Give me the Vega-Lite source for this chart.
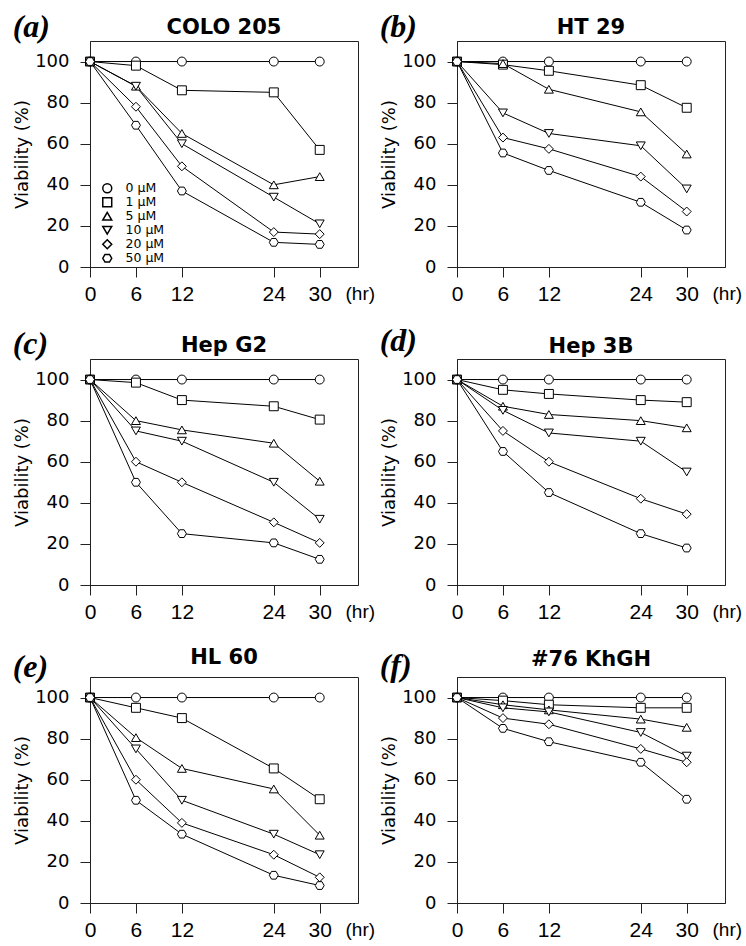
{
  "$schema": "https://vega.github.io/schema/vega-lite/v6.json",
  "background": "white",
  "padding": {"left": 12, "top": 10, "right": 0, "bottom": 0},
  "bounds": "flush",
  "columns": 2,
  "spacing": {"row": 92, "column": 99},
  "resolve": {"scale": {"shape": "independent"}, "legend": {"shape": "independent"}},
  "data": {"values": [
    {"p":"a","c":"0 µM","t":0,"v":100},{"p":"a","c":"0 µM","t":6,"v":100},{"p":"a","c":"0 µM","t":12,"v":100},{"p":"a","c":"0 µM","t":24,"v":100},{"p":"a","c":"0 µM","t":30,"v":100},
    {"p":"a","c":"1 µM","t":0,"v":100},{"p":"a","c":"1 µM","t":6,"v":98},{"p":"a","c":"1 µM","t":12,"v":86},{"p":"a","c":"1 µM","t":24,"v":85},{"p":"a","c":"1 µM","t":30,"v":57},
    {"p":"a","c":"5 µM","t":0,"v":100},{"p":"a","c":"5 µM","t":6,"v":88},{"p":"a","c":"5 µM","t":12,"v":65},{"p":"a","c":"5 µM","t":24,"v":40},{"p":"a","c":"5 µM","t":30,"v":44},
    {"p":"a","c":"10 µM","t":0,"v":100},{"p":"a","c":"10 µM","t":6,"v":88},{"p":"a","c":"10 µM","t":12,"v":60},{"p":"a","c":"10 µM","t":24,"v":34},{"p":"a","c":"10 µM","t":30,"v":21},
    {"p":"a","c":"20 µM","t":0,"v":100},{"p":"a","c":"20 µM","t":6,"v":78},{"p":"a","c":"20 µM","t":12,"v":49},{"p":"a","c":"20 µM","t":24,"v":17},{"p":"a","c":"20 µM","t":30,"v":16},
    {"p":"a","c":"50 µM","t":0,"v":100},{"p":"a","c":"50 µM","t":6,"v":69},{"p":"a","c":"50 µM","t":12,"v":37},{"p":"a","c":"50 µM","t":24,"v":12},{"p":"a","c":"50 µM","t":30,"v":11},

    {"p":"b","c":"0 µM","t":0,"v":100},{"p":"b","c":"0 µM","t":6,"v":100},{"p":"b","c":"0 µM","t":12,"v":100},{"p":"b","c":"0 µM","t":24,"v":100},{"p":"b","c":"0 µM","t":30,"v":100},
    {"p":"b","c":"1 µM","t":0,"v":100},{"p":"b","c":"1 µM","t":6,"v":98.5},{"p":"b","c":"1 µM","t":12,"v":95.5},{"p":"b","c":"1 µM","t":24,"v":88.5},{"p":"b","c":"1 µM","t":30,"v":77.5},
    {"p":"b","c":"5 µM","t":0,"v":100},{"p":"b","c":"5 µM","t":6,"v":99},{"p":"b","c":"5 µM","t":12,"v":86.5},{"p":"b","c":"5 µM","t":24,"v":75.5},{"p":"b","c":"5 µM","t":30,"v":55},
    {"p":"b","c":"10 µM","t":0,"v":100},{"p":"b","c":"10 µM","t":6,"v":75},{"p":"b","c":"10 µM","t":12,"v":65},{"p":"b","c":"10 µM","t":24,"v":59},{"p":"b","c":"10 µM","t":30,"v":38},
    {"p":"b","c":"20 µM","t":0,"v":100},{"p":"b","c":"20 µM","t":6,"v":63},{"p":"b","c":"20 µM","t":12,"v":57.5},{"p":"b","c":"20 µM","t":24,"v":44},{"p":"b","c":"20 µM","t":30,"v":27},
    {"p":"b","c":"50 µM","t":0,"v":100},{"p":"b","c":"50 µM","t":6,"v":55.5},{"p":"b","c":"50 µM","t":12,"v":47},{"p":"b","c":"50 µM","t":24,"v":31.5},{"p":"b","c":"50 µM","t":30,"v":18},

    {"p":"c","c":"0 µM","t":0,"v":100},{"p":"c","c":"0 µM","t":6,"v":100},{"p":"c","c":"0 µM","t":12,"v":100},{"p":"c","c":"0 µM","t":24,"v":100},{"p":"c","c":"0 µM","t":30,"v":100},
    {"p":"c","c":"1 µM","t":0,"v":100},{"p":"c","c":"1 µM","t":6,"v":98.5},{"p":"c","c":"1 µM","t":12,"v":90},{"p":"c","c":"1 µM","t":24,"v":87},{"p":"c","c":"1 µM","t":30,"v":80.5},
    {"p":"c","c":"5 µM","t":0,"v":100},{"p":"c","c":"5 µM","t":6,"v":80},{"p":"c","c":"5 µM","t":12,"v":75.5},{"p":"c","c":"5 µM","t":24,"v":69},{"p":"c","c":"5 µM","t":30,"v":50.5},
    {"p":"c","c":"10 µM","t":0,"v":100},{"p":"c","c":"10 µM","t":6,"v":75},{"p":"c","c":"10 µM","t":12,"v":70},{"p":"c","c":"10 µM","t":24,"v":50},{"p":"c","c":"10 µM","t":30,"v":32},
    {"p":"c","c":"20 µM","t":0,"v":100},{"p":"c","c":"20 µM","t":6,"v":60},{"p":"c","c":"20 µM","t":12,"v":50},{"p":"c","c":"20 µM","t":24,"v":30.5},{"p":"c","c":"20 µM","t":30,"v":20.5},
    {"p":"c","c":"50 µM","t":0,"v":100},{"p":"c","c":"50 µM","t":6,"v":50},{"p":"c","c":"50 µM","t":12,"v":25},{"p":"c","c":"50 µM","t":24,"v":20.5},{"p":"c","c":"50 µM","t":30,"v":12.5},

    {"p":"d","c":"0 µM","t":0,"v":100},{"p":"d","c":"0 µM","t":6,"v":100},{"p":"d","c":"0 µM","t":12,"v":100},{"p":"d","c":"0 µM","t":24,"v":100},{"p":"d","c":"0 µM","t":30,"v":100},
    {"p":"d","c":"1 µM","t":0,"v":100},{"p":"d","c":"1 µM","t":6,"v":95},{"p":"d","c":"1 µM","t":12,"v":93},{"p":"d","c":"1 µM","t":24,"v":90},{"p":"d","c":"1 µM","t":30,"v":89},
    {"p":"d","c":"5 µM","t":0,"v":100},{"p":"d","c":"5 µM","t":6,"v":87},{"p":"d","c":"5 µM","t":12,"v":83},{"p":"d","c":"5 µM","t":24,"v":80},{"p":"d","c":"5 µM","t":30,"v":76.5},
    {"p":"d","c":"10 µM","t":0,"v":100},{"p":"d","c":"10 µM","t":6,"v":85},{"p":"d","c":"10 µM","t":12,"v":74},{"p":"d","c":"10 µM","t":24,"v":70},{"p":"d","c":"10 µM","t":30,"v":55},
    {"p":"d","c":"20 µM","t":0,"v":100},{"p":"d","c":"20 µM","t":6,"v":75},{"p":"d","c":"20 µM","t":12,"v":60},{"p":"d","c":"20 µM","t":24,"v":42},{"p":"d","c":"20 µM","t":30,"v":34.5},
    {"p":"d","c":"50 µM","t":0,"v":100},{"p":"d","c":"50 µM","t":6,"v":65},{"p":"d","c":"50 µM","t":12,"v":45},{"p":"d","c":"50 µM","t":24,"v":25},{"p":"d","c":"50 µM","t":30,"v":18},

    {"p":"e","c":"0 µM","t":0,"v":100},{"p":"e","c":"0 µM","t":6,"v":100},{"p":"e","c":"0 µM","t":12,"v":100},{"p":"e","c":"0 µM","t":24,"v":100},{"p":"e","c":"0 µM","t":30,"v":100},
    {"p":"e","c":"1 µM","t":0,"v":100},{"p":"e","c":"1 µM","t":6,"v":95},{"p":"e","c":"1 µM","t":12,"v":90},{"p":"e","c":"1 µM","t":24,"v":65.5},{"p":"e","c":"1 µM","t":30,"v":50.5},
    {"p":"e","c":"5 µM","t":0,"v":100},{"p":"e","c":"5 µM","t":6,"v":80.5},{"p":"e","c":"5 µM","t":12,"v":65.5},{"p":"e","c":"5 µM","t":24,"v":55.5},{"p":"e","c":"5 µM","t":30,"v":33},
    {"p":"e","c":"10 µM","t":0,"v":100},{"p":"e","c":"10 µM","t":6,"v":75},{"p":"e","c":"10 µM","t":12,"v":50},{"p":"e","c":"10 µM","t":24,"v":33.5},{"p":"e","c":"10 µM","t":30,"v":23.5},
    {"p":"e","c":"20 µM","t":0,"v":100},{"p":"e","c":"20 µM","t":6,"v":60},{"p":"e","c":"20 µM","t":12,"v":39},{"p":"e","c":"20 µM","t":24,"v":23.5},{"p":"e","c":"20 µM","t":30,"v":12.5},
    {"p":"e","c":"50 µM","t":0,"v":100},{"p":"e","c":"50 µM","t":6,"v":50},{"p":"e","c":"50 µM","t":12,"v":33.5},{"p":"e","c":"50 µM","t":24,"v":13.5},{"p":"e","c":"50 µM","t":30,"v":8.5},

    {"p":"f","c":"0 µM","t":0,"v":100},{"p":"f","c":"0 µM","t":6,"v":100},{"p":"f","c":"0 µM","t":12,"v":100},{"p":"f","c":"0 µM","t":24,"v":100},{"p":"f","c":"0 µM","t":30,"v":100},
    {"p":"f","c":"1 µM","t":0,"v":100},{"p":"f","c":"1 µM","t":6,"v":98.5},{"p":"f","c":"1 µM","t":12,"v":96.5},{"p":"f","c":"1 µM","t":24,"v":95},{"p":"f","c":"1 µM","t":30,"v":95},
    {"p":"f","c":"5 µM","t":0,"v":100},{"p":"f","c":"5 µM","t":6,"v":96.5},{"p":"f","c":"5 µM","t":12,"v":94},{"p":"f","c":"5 µM","t":24,"v":89.5},{"p":"f","c":"5 µM","t":30,"v":85.5},
    {"p":"f","c":"10 µM","t":0,"v":100},{"p":"f","c":"10 µM","t":6,"v":95},{"p":"f","c":"10 µM","t":12,"v":93},{"p":"f","c":"10 µM","t":24,"v":83},{"p":"f","c":"10 µM","t":30,"v":71.5},
    {"p":"f","c":"20 µM","t":0,"v":100},{"p":"f","c":"20 µM","t":6,"v":90},{"p":"f","c":"20 µM","t":12,"v":87},{"p":"f","c":"20 µM","t":24,"v":75},{"p":"f","c":"20 µM","t":30,"v":68.5},
    {"p":"f","c":"50 µM","t":0,"v":100},{"p":"f","c":"50 µM","t":6,"v":85},{"p":"f","c":"50 µM","t":12,"v":78.5},{"p":"f","c":"50 µM","t":24,"v":68.5},{"p":"f","c":"50 µM","t":30,"v":50.5}
  ]},
  "concat": [
    {
      "width": 268, "height": 226,
      "layer": [
        {"transform": [{"filter": "datum.p == 'a'"}], "mark": {"type": "line", "color": "black", "strokeWidth": 1},
         "encoding": {"x": {"field": "t", "type": "quantitative", "scale": {"domain": [0, 35]}, "axis": {"values": [0, 6, 12, 24, 30], "title": "(hr)"}}, "y": {"field": "v", "type": "quantitative", "scale": {"domain": [0, 110]}, "axis": {"values": [0, 20, 40, 60, 80, 100], "title": "Viability (%)"}}, "detail": {"field": "c"}}},
        {"transform": [{"filter": "datum.p == 'a'"}], "mark": {"type": "point", "filled": true, "fill": "white", "stroke": "black", "strokeWidth": 1, "size": 80, "opacity": 1},
         "encoding": {"x": {"field": "t", "type": "quantitative", "scale": {"domain": [0, 35]}, "axis": {"values": [0, 6, 12, 24, 30], "title": "(hr)"}}, "y": {"field": "v", "type": "quantitative", "scale": {"domain": [0, 110]}, "axis": {"values": [0, 20, 40, 60, 80, 100], "title": "Viability (%)"}},
           "shape": {"field": "c", "type": "nominal", "scale": {"domain": ["0 µM", "1 µM", "5 µM", "10 µM", "20 µM", "50 µM"], "range": ["circle", "square", "triangle-up", "triangle-down", "diamond", "M-1,0L-0.5,-0.866L0.5,-0.866L1,0L0.5,0.866L-0.5,0.866Z"]},
           "legend": {"orient": "none", "legendX": 11, "legendY": 141, "title": null, "padding": 0, "symbolSize": 80, "labelFont": "DejaVu Sans", "labelFontSize": 12.5, "labelColor": "black", "labelOffset": 12, "rowPadding": -2.5, "labelExpr": "length(datum.label) < 5 ? '\u2007' + datum.label : datum.label",
             "encode": {"symbols": {"update": {"fill": {"value": "white"}, "stroke": {"value": "black"}, "strokeWidth": {"value": 1}, "opacity": {"value": 1}}}}}}}},
        {"transform": [{"filter": "datum.p == 'a' && datum.c == '0 µM' && datum.t == 0"}], "mark": {"type": "text", "font": "Liberation Serif", "fontWeight": "bold", "fontStyle": "italic", "fontSize": 32, "align": "left", "baseline": "alphabetic", "color": "black"},
         "encoding": {"x": {"datum": -10.1, "type": "quantitative", "scale": {"domain": [0, 35]}, "axis": {"values": [0, 6, 12, 24, 30], "title": "(hr)"}}, "y": {"datum": 112.0, "type": "quantitative", "scale": {"domain": [0, 110]}, "axis": {"values": [0, 20, 40, 60, 80, 100], "title": "Viability (%)"}}, "text": {"value": "(a)"}}},
        {"transform": [{"filter": "datum.p == 'a' && datum.c == '0 µM' && datum.t == 0"}], "mark": {"type": "text", "font": "DejaVu Sans", "fontWeight": "bold", "fontSize": 21, "align": "center", "baseline": "alphabetic", "color": "black"},
         "encoding": {"x": {"datum": 17.5, "type": "quantitative", "scale": {"domain": [0, 35]}, "axis": {"values": [0, 6, 12, 24, 30], "title": "(hr)"}}, "y": {"datum": 113.4, "type": "quantitative", "scale": {"domain": [0, 110]}, "axis": {"values": [0, 20, 40, 60, 80, 100], "title": "Viability (%)"}}, "text": {"value": "COLO 205"}}}
      ]
    },
    {
      "width": 268, "height": 226,
      "layer": [
        {"transform": [{"filter": "datum.p == 'b'"}], "mark": {"type": "line", "color": "black", "strokeWidth": 1},
         "encoding": {"x": {"field": "t", "type": "quantitative", "scale": {"domain": [0, 35]}, "axis": {"values": [0, 6, 12, 24, 30], "title": "(hr)"}}, "y": {"field": "v", "type": "quantitative", "scale": {"domain": [0, 110]}, "axis": {"values": [0, 20, 40, 60, 80, 100], "title": "Viability (%)"}}, "detail": {"field": "c"}}},
        {"transform": [{"filter": "datum.p == 'b'"}], "mark": {"type": "point", "filled": true, "fill": "white", "stroke": "black", "strokeWidth": 1, "size": 80, "opacity": 1},
         "encoding": {"x": {"field": "t", "type": "quantitative", "scale": {"domain": [0, 35]}, "axis": {"values": [0, 6, 12, 24, 30], "title": "(hr)"}}, "y": {"field": "v", "type": "quantitative", "scale": {"domain": [0, 110]}, "axis": {"values": [0, 20, 40, 60, 80, 100], "title": "Viability (%)"}},
           "shape": {"field": "c", "type": "nominal", "scale": {"domain": ["0 µM", "1 µM", "5 µM", "10 µM", "20 µM", "50 µM"], "range": ["circle", "square", "triangle-up", "triangle-down", "diamond", "M-1,0L-0.5,-0.866L0.5,-0.866L1,0L0.5,0.866L-0.5,0.866Z"]}, "legend": null}}},
        {"transform": [{"filter": "datum.p == 'b' && datum.c == '0 µM' && datum.t == 0"}], "mark": {"type": "text", "font": "Liberation Serif", "fontWeight": "bold", "fontStyle": "italic", "fontSize": 32, "align": "left", "baseline": "alphabetic", "color": "black"},
         "encoding": {"x": {"datum": -10.1, "type": "quantitative", "scale": {"domain": [0, 35]}, "axis": {"values": [0, 6, 12, 24, 30], "title": "(hr)"}}, "y": {"datum": 112.0, "type": "quantitative", "scale": {"domain": [0, 110]}, "axis": {"values": [0, 20, 40, 60, 80, 100], "title": "Viability (%)"}}, "text": {"value": "(b)"}}},
        {"transform": [{"filter": "datum.p == 'b' && datum.c == '0 µM' && datum.t == 0"}], "mark": {"type": "text", "font": "DejaVu Sans", "fontWeight": "bold", "fontSize": 21, "align": "center", "baseline": "alphabetic", "color": "black"},
         "encoding": {"x": {"datum": 17.5, "type": "quantitative", "scale": {"domain": [0, 35]}, "axis": {"values": [0, 6, 12, 24, 30], "title": "(hr)"}}, "y": {"datum": 113.4, "type": "quantitative", "scale": {"domain": [0, 110]}, "axis": {"values": [0, 20, 40, 60, 80, 100], "title": "Viability (%)"}}, "text": {"value": "HT 29"}}}
      ]
    },
    {
      "width": 268, "height": 226,
      "layer": [
        {"transform": [{"filter": "datum.p == 'c'"}], "mark": {"type": "line", "color": "black", "strokeWidth": 1},
         "encoding": {"x": {"field": "t", "type": "quantitative", "scale": {"domain": [0, 35]}, "axis": {"values": [0, 6, 12, 24, 30], "title": "(hr)"}}, "y": {"field": "v", "type": "quantitative", "scale": {"domain": [0, 110]}, "axis": {"values": [0, 20, 40, 60, 80, 100], "title": "Viability (%)"}}, "detail": {"field": "c"}}},
        {"transform": [{"filter": "datum.p == 'c'"}], "mark": {"type": "point", "filled": true, "fill": "white", "stroke": "black", "strokeWidth": 1, "size": 80, "opacity": 1},
         "encoding": {"x": {"field": "t", "type": "quantitative", "scale": {"domain": [0, 35]}, "axis": {"values": [0, 6, 12, 24, 30], "title": "(hr)"}}, "y": {"field": "v", "type": "quantitative", "scale": {"domain": [0, 110]}, "axis": {"values": [0, 20, 40, 60, 80, 100], "title": "Viability (%)"}},
           "shape": {"field": "c", "type": "nominal", "scale": {"domain": ["0 µM", "1 µM", "5 µM", "10 µM", "20 µM", "50 µM"], "range": ["circle", "square", "triangle-up", "triangle-down", "diamond", "M-1,0L-0.5,-0.866L0.5,-0.866L1,0L0.5,0.866L-0.5,0.866Z"]}, "legend": null}}},
        {"transform": [{"filter": "datum.p == 'c' && datum.c == '0 µM' && datum.t == 0"}], "mark": {"type": "text", "font": "Liberation Serif", "fontWeight": "bold", "fontStyle": "italic", "fontSize": 32, "align": "left", "baseline": "alphabetic", "color": "black"},
         "encoding": {"x": {"datum": -10.1, "type": "quantitative", "scale": {"domain": [0, 35]}, "axis": {"values": [0, 6, 12, 24, 30], "title": "(hr)"}}, "y": {"datum": 112.4, "type": "quantitative", "scale": {"domain": [0, 110]}, "axis": {"values": [0, 20, 40, 60, 80, 100], "title": "Viability (%)"}}, "text": {"value": "(c)"}}},
        {"transform": [{"filter": "datum.p == 'c' && datum.c == '0 µM' && datum.t == 0"}], "mark": {"type": "text", "font": "DejaVu Sans", "fontWeight": "bold", "fontSize": 21, "align": "center", "baseline": "alphabetic", "color": "black"},
         "encoding": {"x": {"datum": 17.5, "type": "quantitative", "scale": {"domain": [0, 35]}, "axis": {"values": [0, 6, 12, 24, 30], "title": "(hr)"}}, "y": {"datum": 113.4, "type": "quantitative", "scale": {"domain": [0, 110]}, "axis": {"values": [0, 20, 40, 60, 80, 100], "title": "Viability (%)"}}, "text": {"value": "Hep G2"}}}
      ]
    },
    {
      "width": 268, "height": 226,
      "layer": [
        {"transform": [{"filter": "datum.p == 'd'"}], "mark": {"type": "line", "color": "black", "strokeWidth": 1},
         "encoding": {"x": {"field": "t", "type": "quantitative", "scale": {"domain": [0, 35]}, "axis": {"values": [0, 6, 12, 24, 30], "title": "(hr)"}}, "y": {"field": "v", "type": "quantitative", "scale": {"domain": [0, 110]}, "axis": {"values": [0, 20, 40, 60, 80, 100], "title": "Viability (%)"}}, "detail": {"field": "c"}}},
        {"transform": [{"filter": "datum.p == 'd'"}], "mark": {"type": "point", "filled": true, "fill": "white", "stroke": "black", "strokeWidth": 1, "size": 80, "opacity": 1},
         "encoding": {"x": {"field": "t", "type": "quantitative", "scale": {"domain": [0, 35]}, "axis": {"values": [0, 6, 12, 24, 30], "title": "(hr)"}}, "y": {"field": "v", "type": "quantitative", "scale": {"domain": [0, 110]}, "axis": {"values": [0, 20, 40, 60, 80, 100], "title": "Viability (%)"}},
           "shape": {"field": "c", "type": "nominal", "scale": {"domain": ["0 µM", "1 µM", "5 µM", "10 µM", "20 µM", "50 µM"], "range": ["circle", "square", "triangle-up", "triangle-down", "diamond", "M-1,0L-0.5,-0.866L0.5,-0.866L1,0L0.5,0.866L-0.5,0.866Z"]}, "legend": null}}},
        {"transform": [{"filter": "datum.p == 'd' && datum.c == '0 µM' && datum.t == 0"}], "mark": {"type": "text", "font": "Liberation Serif", "fontWeight": "bold", "fontStyle": "italic", "fontSize": 32, "align": "left", "baseline": "alphabetic", "color": "black"},
         "encoding": {"x": {"datum": -10.1, "type": "quantitative", "scale": {"domain": [0, 35]}, "axis": {"values": [0, 6, 12, 24, 30], "title": "(hr)"}}, "y": {"datum": 113.9, "type": "quantitative", "scale": {"domain": [0, 110]}, "axis": {"values": [0, 20, 40, 60, 80, 100], "title": "Viability (%)"}}, "text": {"value": "(d)"}}},
        {"transform": [{"filter": "datum.p == 'd' && datum.c == '0 µM' && datum.t == 0"}], "mark": {"type": "text", "font": "DejaVu Sans", "fontWeight": "bold", "fontSize": 21, "align": "center", "baseline": "alphabetic", "color": "black"},
         "encoding": {"x": {"datum": 17.5, "type": "quantitative", "scale": {"domain": [0, 35]}, "axis": {"values": [0, 6, 12, 24, 30], "title": "(hr)"}}, "y": {"datum": 112.9, "type": "quantitative", "scale": {"domain": [0, 110]}, "axis": {"values": [0, 20, 40, 60, 80, 100], "title": "Viability (%)"}}, "text": {"value": "Hep 3B"}}}
      ]
    },
    {
      "width": 268, "height": 226,
      "layer": [
        {"transform": [{"filter": "datum.p == 'e'"}], "mark": {"type": "line", "color": "black", "strokeWidth": 1},
         "encoding": {"x": {"field": "t", "type": "quantitative", "scale": {"domain": [0, 35]}, "axis": {"values": [0, 6, 12, 24, 30], "title": "(hr)"}}, "y": {"field": "v", "type": "quantitative", "scale": {"domain": [0, 110]}, "axis": {"values": [0, 20, 40, 60, 80, 100], "title": "Viability (%)"}}, "detail": {"field": "c"}}},
        {"transform": [{"filter": "datum.p == 'e'"}], "mark": {"type": "point", "filled": true, "fill": "white", "stroke": "black", "strokeWidth": 1, "size": 80, "opacity": 1},
         "encoding": {"x": {"field": "t", "type": "quantitative", "scale": {"domain": [0, 35]}, "axis": {"values": [0, 6, 12, 24, 30], "title": "(hr)"}}, "y": {"field": "v", "type": "quantitative", "scale": {"domain": [0, 110]}, "axis": {"values": [0, 20, 40, 60, 80, 100], "title": "Viability (%)"}},
           "shape": {"field": "c", "type": "nominal", "scale": {"domain": ["0 µM", "1 µM", "5 µM", "10 µM", "20 µM", "50 µM"], "range": ["circle", "square", "triangle-up", "triangle-down", "diamond", "M-1,0L-0.5,-0.866L0.5,-0.866L1,0L0.5,0.866L-0.5,0.866Z"]}, "legend": null}}},
        {"transform": [{"filter": "datum.p == 'e' && datum.c == '0 µM' && datum.t == 0"}], "mark": {"type": "text", "font": "Liberation Serif", "fontWeight": "bold", "fontStyle": "italic", "fontSize": 32, "align": "left", "baseline": "alphabetic", "color": "black"},
         "encoding": {"x": {"datum": -10.1, "type": "quantitative", "scale": {"domain": [0, 35]}, "axis": {"values": [0, 6, 12, 24, 30], "title": "(hr)"}}, "y": {"datum": 110.0, "type": "quantitative", "scale": {"domain": [0, 110]}, "axis": {"values": [0, 20, 40, 60, 80, 100], "title": "Viability (%)"}}, "text": {"value": "(e)"}}},
        {"transform": [{"filter": "datum.p == 'e' && datum.c == '0 µM' && datum.t == 0"}], "mark": {"type": "text", "font": "DejaVu Sans", "fontWeight": "bold", "fontSize": 21, "align": "center", "baseline": "alphabetic", "color": "black"},
         "encoding": {"x": {"datum": 17.5, "type": "quantitative", "scale": {"domain": [0, 35]}, "axis": {"values": [0, 6, 12, 24, 30], "title": "(hr)"}}, "y": {"datum": 116.3, "type": "quantitative", "scale": {"domain": [0, 110]}, "axis": {"values": [0, 20, 40, 60, 80, 100], "title": "Viability (%)"}}, "text": {"value": "HL 60"}}}
      ]
    },
    {
      "width": 268, "height": 226,
      "layer": [
        {"transform": [{"filter": "datum.p == 'f'"}], "mark": {"type": "line", "color": "black", "strokeWidth": 1},
         "encoding": {"x": {"field": "t", "type": "quantitative", "scale": {"domain": [0, 35]}, "axis": {"values": [0, 6, 12, 24, 30], "title": "(hr)"}}, "y": {"field": "v", "type": "quantitative", "scale": {"domain": [0, 110]}, "axis": {"values": [0, 20, 40, 60, 80, 100], "title": "Viability (%)"}}, "detail": {"field": "c"}}},
        {"transform": [{"filter": "datum.p == 'f'"}], "mark": {"type": "point", "filled": true, "fill": "white", "stroke": "black", "strokeWidth": 1, "size": 80, "opacity": 1},
         "encoding": {"x": {"field": "t", "type": "quantitative", "scale": {"domain": [0, 35]}, "axis": {"values": [0, 6, 12, 24, 30], "title": "(hr)"}}, "y": {"field": "v", "type": "quantitative", "scale": {"domain": [0, 110]}, "axis": {"values": [0, 20, 40, 60, 80, 100], "title": "Viability (%)"}},
           "shape": {"field": "c", "type": "nominal", "scale": {"domain": ["0 µM", "1 µM", "5 µM", "10 µM", "20 µM", "50 µM"], "range": ["circle", "square", "triangle-up", "triangle-down", "diamond", "M-1,0L-0.5,-0.866L0.5,-0.866L1,0L0.5,0.866L-0.5,0.866Z"]}, "legend": null}}},
        {"transform": [{"filter": "datum.p == 'f' && datum.c == '0 µM' && datum.t == 0"}], "mark": {"type": "text", "font": "Liberation Serif", "fontWeight": "bold", "fontStyle": "italic", "fontSize": 32, "align": "left", "baseline": "alphabetic", "color": "black"},
         "encoding": {"x": {"datum": -10.1, "type": "quantitative", "scale": {"domain": [0, 35]}, "axis": {"values": [0, 6, 12, 24, 30], "title": "(hr)"}}, "y": {"datum": 110.5, "type": "quantitative", "scale": {"domain": [0, 110]}, "axis": {"values": [0, 20, 40, 60, 80, 100], "title": "Viability (%)"}}, "text": {"value": "(f)"}}},
        {"transform": [{"filter": "datum.p == 'f' && datum.c == '0 µM' && datum.t == 0"}], "mark": {"type": "text", "font": "DejaVu Sans", "fontWeight": "bold", "fontSize": 21, "align": "center", "baseline": "alphabetic", "color": "black"},
         "encoding": {"x": {"datum": 17.5, "type": "quantitative", "scale": {"domain": [0, 35]}, "axis": {"values": [0, 6, 12, 24, 30], "title": "(hr)"}}, "y": {"datum": 115.4, "type": "quantitative", "scale": {"domain": [0, 110]}, "axis": {"values": [0, 20, 40, 60, 80, 100], "title": "Viability (%)"}}, "text": {"value": "#76 KhGH"}}}
      ]
    }
  ],
  "config": {
    "view": {"stroke": "#222", "strokeWidth": 1},
    "axis": {"grid": false, "domainColor": "#222", "tickColor": "#222", "tickSize": 10, "labelColor": "black", "titleColor": "black", "labelFlush": false, "labelOverlap": false},
    "axisX": {"labelFont": "Liberation Sans", "labelFontSize": 21, "labelPadding": 6, "titleFont": "Liberation Sans", "titleFontSize": 19, "titleFontWeight": "normal", "titleAngle": 0, "titleAlign": "left", "titleBaseline": "alphabetic", "titleX": 255, "titleY": 32},
    "axisY": {"labelFont": "DejaVu Sans", "labelFontSize": 18, "labelPadding": 11, "titleFont": "DejaVu Sans", "titleFontSize": 18, "titleFontWeight": "normal", "titlePadding": 3}
  }
}
